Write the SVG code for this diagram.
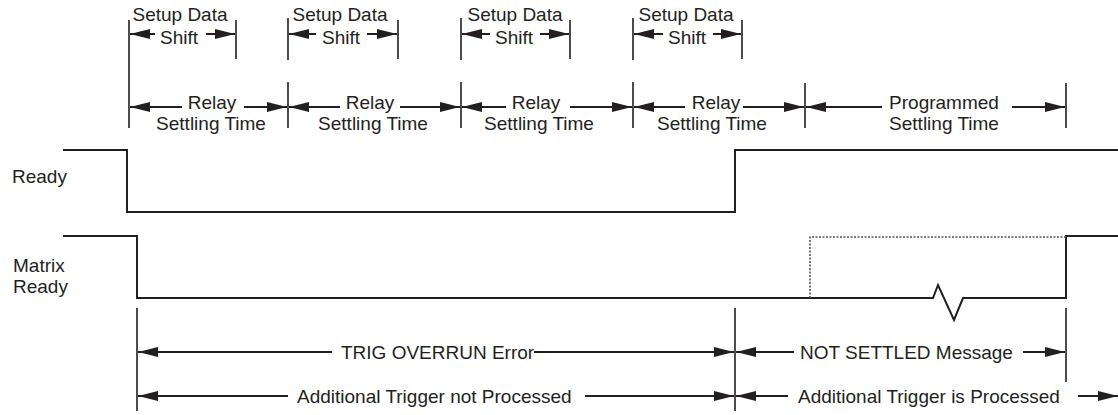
<svg xmlns="http://www.w3.org/2000/svg" width="1118" height="415" viewBox="0 0 1118 415">
<style>
text{font-family:"Liberation Sans",Arial,sans-serif;font-size:19px;fill:#231f20}
.m{text-anchor:middle}
.sig{fill:none;stroke:#231f20;stroke-width:2}
.tick{stroke:#231f20;stroke-width:1.6}
.arr{stroke:#231f20;stroke-width:2;marker-end:url(#ah)}
.dot{fill:none;stroke:#555;stroke-width:1.6;stroke-dasharray:2 1.5}
</style>
<defs>
<marker id="ah" markerUnits="userSpaceOnUse" markerWidth="22" markerHeight="12" refX="20" refY="5" orient="auto">
<path d="M0,0 L20,5 L0,10 z" fill="#231f20"/>
</marker>
</defs>
<rect width="1118" height="415" fill="#fff"/>

<g id="signal-ready">
<polyline class="sig" points="63,150 127,150 127,212 735,212 735,150 1118,150"/>
<text x="12" y="183">Ready</text>
</g>

<g id="signal-matrix-ready">
<polyline class="sig" points="63,236 137,236 137,298 933,298 938,285 954,320 963,298 1066,298 1066,236 1118,236"/>
<polyline class="dot" points="810,298 810,237 1066,237"/>
<text x="13" y="272">Matrix</text>
<text x="13" y="293">Ready</text>
</g>

<g id="ticks">
<line class="tick" x1="129" y1="20" x2="129" y2="128"/>
<line class="tick" x1="236" y1="20" x2="236" y2="59"/>
<line class="tick" x1="288" y1="18" x2="288" y2="60"/>
<line class="tick" x1="288" y1="82" x2="288" y2="128"/>
<line class="tick" x1="398" y1="20" x2="398" y2="59"/>
<line class="tick" x1="461" y1="18" x2="461" y2="60"/>
<line class="tick" x1="461" y1="82" x2="461" y2="128"/>
<line class="tick" x1="570" y1="20" x2="570" y2="59"/>
<line class="tick" x1="633" y1="18" x2="633" y2="60"/>
<line class="tick" x1="633" y1="82" x2="633" y2="128"/>
<line class="tick" x1="742" y1="20" x2="742" y2="59"/>
<line class="tick" x1="805" y1="83" x2="805" y2="128"/>
<line class="tick" x1="1066" y1="83" x2="1066" y2="128"/>
<line class="tick" x1="137" y1="308" x2="137" y2="411"/>
<line class="tick" x1="735" y1="308" x2="735" y2="411"/>
<line class="tick" x1="1066" y1="308" x2="1066" y2="382"/>
</g>

<g id="connectors">
<line class="arr" x1="155" y1="34" x2="130" y2="34"/>
<line class="arr" x1="206" y1="34" x2="235" y2="34"/>
<line class="arr" x1="316" y1="34" x2="289" y2="34"/>
<line class="arr" x1="367" y1="34" x2="397" y2="34"/>
<line class="arr" x1="490" y1="34" x2="462" y2="34"/>
<line class="arr" x1="540" y1="34" x2="569" y2="34"/>
<line class="arr" x1="663" y1="34" x2="634" y2="34"/>
<line class="arr" x1="713" y1="34" x2="741" y2="34"/>

<line class="arr" x1="182" y1="107" x2="130" y2="107"/>
<line class="arr" x1="244" y1="107" x2="287" y2="107"/>
<line class="arr" x1="340" y1="107" x2="289" y2="107"/>
<line class="arr" x1="400" y1="107" x2="460" y2="107"/>
<line class="arr" x1="506" y1="107" x2="462" y2="107"/>
<line class="arr" x1="570" y1="107" x2="632" y2="107"/>
<line class="arr" x1="685" y1="107" x2="634" y2="107"/>
<line class="arr" x1="743" y1="107" x2="804" y2="107"/>
<line class="arr" x1="882" y1="107" x2="806" y2="107"/>
<line class="arr" x1="1012" y1="107" x2="1065" y2="107"/>

<line class="arr" x1="332" y1="352" x2="138" y2="352"/>
<line class="arr" x1="534" y1="352" x2="734" y2="352"/>
<line class="arr" x1="794" y1="352" x2="736" y2="352"/>
<line class="arr" x1="1023" y1="352" x2="1065" y2="352"/>
<line class="arr" x1="288" y1="396" x2="138" y2="396"/>
<line class="arr" x1="585" y1="396" x2="734" y2="396"/>
<line class="arr" x1="788" y1="396" x2="736" y2="396"/>
<line class="arr" x1="1078" y1="396" x2="1118" y2="396"/>
</g>

<g id="labels-setup">
<text class="m" x="180" y="21">Setup Data</text>
<text class="m" x="179" y="44">Shift</text>
<text class="m" x="340" y="21">Setup Data</text>
<text class="m" x="341" y="44">Shift</text>
<text class="m" x="515" y="21">Setup Data</text>
<text class="m" x="514" y="44">Shift</text>
<text class="m" x="686" y="21">Setup Data</text>
<text class="m" x="687" y="44">Shift</text>
</g>

<g id="labels-settling">
<text class="m" x="212" y="109">Relay</text>
<text class="m" x="211" y="130">Settling Time</text>
<text class="m" x="370" y="109">Relay</text>
<text class="m" x="373" y="130">Settling Time</text>
<text class="m" x="536" y="109">Relay</text>
<text class="m" x="539" y="130">Settling Time</text>
<text class="m" x="716" y="109">Relay</text>
<text class="m" x="712" y="130">Settling Time</text>
<text class="m" x="944" y="109">Programmed</text>
<text class="m" x="944" y="130">Settling Time</text>
</g>

<g id="labels-bottom">
<text x="341" y="359">TRIG OVERRUN Error</text>
<text x="800" y="359">NOT SETTLED Message</text>
<text x="297" y="403">Additional Trigger not Processed</text>
<text x="798" y="403">Additional Trigger is Processed</text>
</g>
</svg>
